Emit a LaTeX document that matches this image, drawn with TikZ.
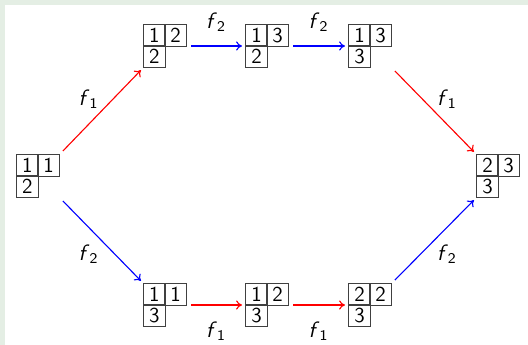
\documentclass[tikz,border=0pt]{standalone}
\usetikzlibrary{arrows.meta}
\definecolor{bgframe}{HTML}{E4EEE4}
\tikzset{
 cell/.style={draw=black!75, line width=0.5pt, minimum size=11.88pt, inner sep=0pt, font=\sffamily\fontsize{11.5}{14}\selectfont},
 tabbox/.style={minimum size=23.76pt, inner sep=0pt, outer sep=0pt},
 arr/.style={-{To[length=3.2pt,width=5pt]}, line width=0.6pt, shorten <=2.2pt, shorten >=1.6pt},
 lab/.style={font=\sffamily\fontsize{12}{14}\selectfont, inner sep=0pt, text=black},
}
\newcommand\yt[6]{%
 \node[tabbox, anchor=north west] (#1) at (#2,#3) {};
 \node[cell, anchor=north west] (#1a) at (#1.north west) {#4};
 \node[cell, anchor=north east] (#1b) at (#1.north east) {#5};
 \node[cell, anchor=south west] (#1c) at (#1.south west) {#6};
}
\newcommand\fl[1]{\textsl{f}\textsubscript{#1}}
\begin{document}
\begin{tikzpicture}[x=0.54pt,y=-0.54pt]
\fill[bgframe] (0,0) rectangle (528,345);
\fill[white] (5,5) rectangle (528,345);
\useasboundingbox (0,0) rectangle (528,345);
\yt{L}{16}{154}{1}{1}{2}
\yt{T1}{143}{24}{1}{2}{2}
\yt{T2}{245}{24}{1}{3}{2}
\yt{T3}{348}{24}{1}{3}{3}
\yt{R}{476}{154}{2}{3}{3}
\yt{B1}{143}{283}{1}{1}{3}
\yt{B2}{245}{283}{1}{2}{3}
\yt{B3}{348}{283}{2}{2}{3}
\draw[arr,red] (L.north east) -- (T1.south west) node[lab,midway,xshift=-7pt,yshift=6.5pt] {\fl{1}};
\draw[arr,blue] (L.south east) -- (T1.south west |- B1.north west) node[lab,midway,xshift=-7pt,yshift=-7.5pt] {\fl{2}};
\draw[arr,blue] (T1.east) -- (T2.west) node[lab,midway,yshift=13pt] {\fl{2}};
\draw[arr,blue] (T2.east) -- (T3.west) node[lab,midway,yshift=13pt] {\fl{2}};
\draw[arr,red] (B1.east) -- (B2.west) node[lab,midway,yshift=-14pt] {\fl{1}};
\draw[arr,red] (B2.east) -- (B3.west) node[lab,midway,yshift=-14pt] {\fl{1}};
\draw[arr,red] (T3.south east) -- (R.north west) node[lab,midway,xshift=7pt,yshift=6.5pt] {\fl{1}};
\draw[arr,blue] (B3.north east) -- (R.south west) node[lab,midway,xshift=7pt,yshift=-7.5pt] {\fl{2}};
\end{tikzpicture}
\end{document}
